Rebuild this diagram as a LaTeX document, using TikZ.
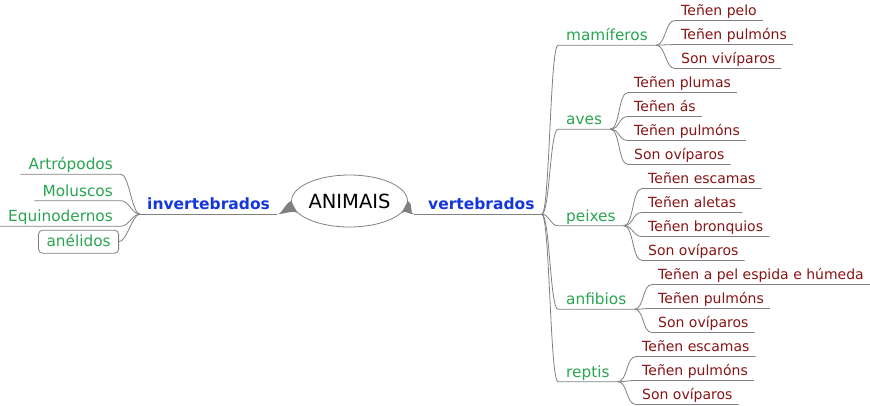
\documentclass[tikz,border=0pt]{standalone}
\usepackage{fontspec}
\setmainfont{DejaVu Sans}
\usepackage{tikz}
\usetikzlibrary{shapes.geometric,calc}
\definecolor{edgegrey}{RGB}{128,128,128}
\definecolor{trunkblue}{RGB}{20,55,220}
\definecolor{branchgreen}{RGB}{40,165,80}
\definecolor{leafred}{RGB}{135,20,20}
\tikzset{
  link/.style={draw=edgegrey, line width=0.8pt},
  rbend/.style={to path={.. controls +(#1,0) and +(-#1,0) .. (\tikztotarget)}},
  rbend/.default=10,
  lbend/.style={to path={.. controls +(-#1,0) and +(#1,0) .. (\tikztotarget)}},
  lbend/.default=10,
  root/.style={ellipse, draw=edgegrey, line width=0.8pt, minimum width=108pt, minimum height=52pt, inner sep=0pt, font=\fontsize{19.5}{22}\selectfont},
  trunk/.style={text=trunkblue, font=\fontsize{15.5}{18}\selectfont\bfseries, inner xsep=7pt, inner ysep=4.5pt, text height=11pt, text depth=0pt},
  branch/.style={text=branchgreen, font=\fontsize{15.3}{18}\selectfont, inner xsep=8pt, inner ysep=4.5pt, text height=11pt, text depth=0pt},
  leaf/.style={text=leafred, font=\fontsize{14}{17}\selectfont, inner xsep=6pt, inner ysep=4.5pt, text height=10pt, text depth=0pt},
  bubble/.style={branch, draw=edgegrey, line width=0.8pt, rounded corners=4pt, text height=12.5pt, text depth=2.5pt, inner ysep=4pt}
}
\begin{document}
\begin{tikzpicture}[x=1pt,y=-1pt]
\useasboundingbox (0,0) rectangle (870,405);
\node[root] (root) at (349.5,201) {ANIMAIS};
\node[trunk, anchor=base west] (vert) at (421,209.5) {vertebrados};
\node[trunk, anchor=base west] (inv) at (140,209.5) {invertebrados};
\fill[edgegrey] (root.0) .. controls +(6,2) and +(-5,0) .. ([xshift=-7pt]vert.south west) .. controls +(-6,0) and +(4,-3) .. (root.-13) -- cycle;
\fill[edgegrey] (root.180) .. controls +(-6,2) and +(5,0) .. (inv.south east) .. controls +(6,0) and +(-4,-3) .. (root.193) -- cycle;
\draw[link] ([xshift=-7pt]vert.south west) -- (vert.south east);
\draw[link] (inv.south east) -- (inv.south west);

\node[branch, anchor=base west] (mam) at (558,40.5) {mamíferos};
\node[branch, anchor=base west] (aves) at (558,124.5) {aves};
\node[branch, anchor=base west] (peix) at (558,221) {peixes};
\node[branch, anchor=base west] (anfi) at (558,304.5) {anfibios};
\node[branch, anchor=base west] (rept) at (558,377) {reptis};
\draw[link] (vert.south east) to[rbend=8] (mam.south west) -- (mam.south east);
\draw[link] (vert.south east) to[rbend=8] (aves.south west) -- (aves.south east);
\draw[link] (vert.south east) to[rbend=8] (peix.south west) -- (peix.south east);
\draw[link] (vert.south east) to[rbend=8] (anfi.south west) -- (anfi.south east);
\draw[link] (vert.south east) to[rbend=8] (rept.south west) -- (rept.south east);

\node[branch, anchor=base east] (artr) at (121,169.5) {Artrópodos};
\node[branch, anchor=base east] (molu) at (121,196) {Moluscos};
\node[branch, anchor=base east] (equi) at (121,221.5) {Equinodernos};
\node[bubble, anchor=base east] (anel) at (119,246.7) {anélidos};
\draw[link] (inv.south west) to[lbend=8] (artr.south east) -- (artr.south west);
\draw[link] (inv.south west) to[lbend=8] (molu.south east) -- (molu.south west);
\draw[link] (inv.south west) to[lbend=8] (equi.south east) -- (equi.south west);
\draw[link] (inv.south west) to[lbend=8] (anel.east);

\node[leaf, anchor=base west] (mam1) at (675,15.8) {Teñen pelo};
\node[leaf, anchor=base west] (mam2) at (675,39.8) {Teñen pulmóns};
\node[leaf, anchor=base west] (mam3) at (675,63.8) {Son vivíparos};
\draw[link] (mam.south east) to[rbend] (mam1.south west) -- (mam1.south east);
\draw[link] (mam.south east) to[rbend] (mam2.south west) -- (mam2.south east);
\draw[link] (mam.south east) to[rbend] (mam3.south west) -- (mam3.south east);

\node[leaf, anchor=base west] (ave1) at (628,87.8) {Teñen plumas};
\node[leaf, anchor=base west] (ave2) at (628,111.8) {Teñen ás};
\node[leaf, anchor=base west] (ave3) at (628,135.8) {Teñen pulmóns};
\node[leaf, anchor=base west] (ave4) at (628,159.8) {Son ovíparos};
\draw[link] (aves.south east) to[rbend] (ave1.south west) -- (ave1.south east);
\draw[link] (aves.south east) to[rbend] (ave2.south west) -- (ave2.south east);
\draw[link] (aves.south east) to[rbend] (ave3.south west) -- (ave3.south east);
\draw[link] (aves.south east) to[rbend] (ave4.south west) -- (ave4.south east);

\node[leaf, anchor=base west] (pei1) at (642,183.8) {Teñen escamas};
\node[leaf, anchor=base west] (pei2) at (642,207.8) {Teñen aletas};
\node[leaf, anchor=base west] (pei3) at (642,231.8) {Teñen bronquios};
\node[leaf, anchor=base west] (pei4) at (642,255.8) {Son ovíparos};
\draw[link] (peix.south east) to[rbend] (pei1.south west) -- (pei1.south east);
\draw[link] (peix.south east) to[rbend] (pei2.south west) -- (pei2.south east);
\draw[link] (peix.south east) to[rbend] (pei3.south west) -- (pei3.south east);
\draw[link] (peix.south east) to[rbend] (pei4.south west) -- (pei4.south east);

\node[leaf, anchor=base west] (anf1) at (652,279.8) {Teñen a pel espida e húmeda};
\node[leaf, anchor=base west] (anf2) at (652,303.8) {Teñen pulmóns};
\node[leaf, anchor=base west] (anf3) at (652,327.8) {Son ovíparos};
\draw[link] (anfi.south east) to[rbend] (anf1.south west) -- (anf1.south east);
\draw[link] (anfi.south east) to[rbend] (anf2.south west) -- (anf2.south east);
\draw[link] (anfi.south east) to[rbend] (anf3.south west) -- (anf3.south east);

\node[leaf, anchor=base west] (rep1) at (636,351.8) {Teñen escamas};
\node[leaf, anchor=base west] (rep2) at (636,375.8) {Teñen pulmóns};
\node[leaf, anchor=base west] (rep3) at (636,399.8) {Son ovíparos};
\draw[link] (rept.south east) to[rbend] (rep1.south west) -- (rep1.south east);
\draw[link] (rept.south east) to[rbend] (rep2.south west) -- (rep2.south east);
\draw[link] (rept.south east) to[rbend] (rep3.south west) -- (rep3.south east);
\end{tikzpicture}
\end{document}
